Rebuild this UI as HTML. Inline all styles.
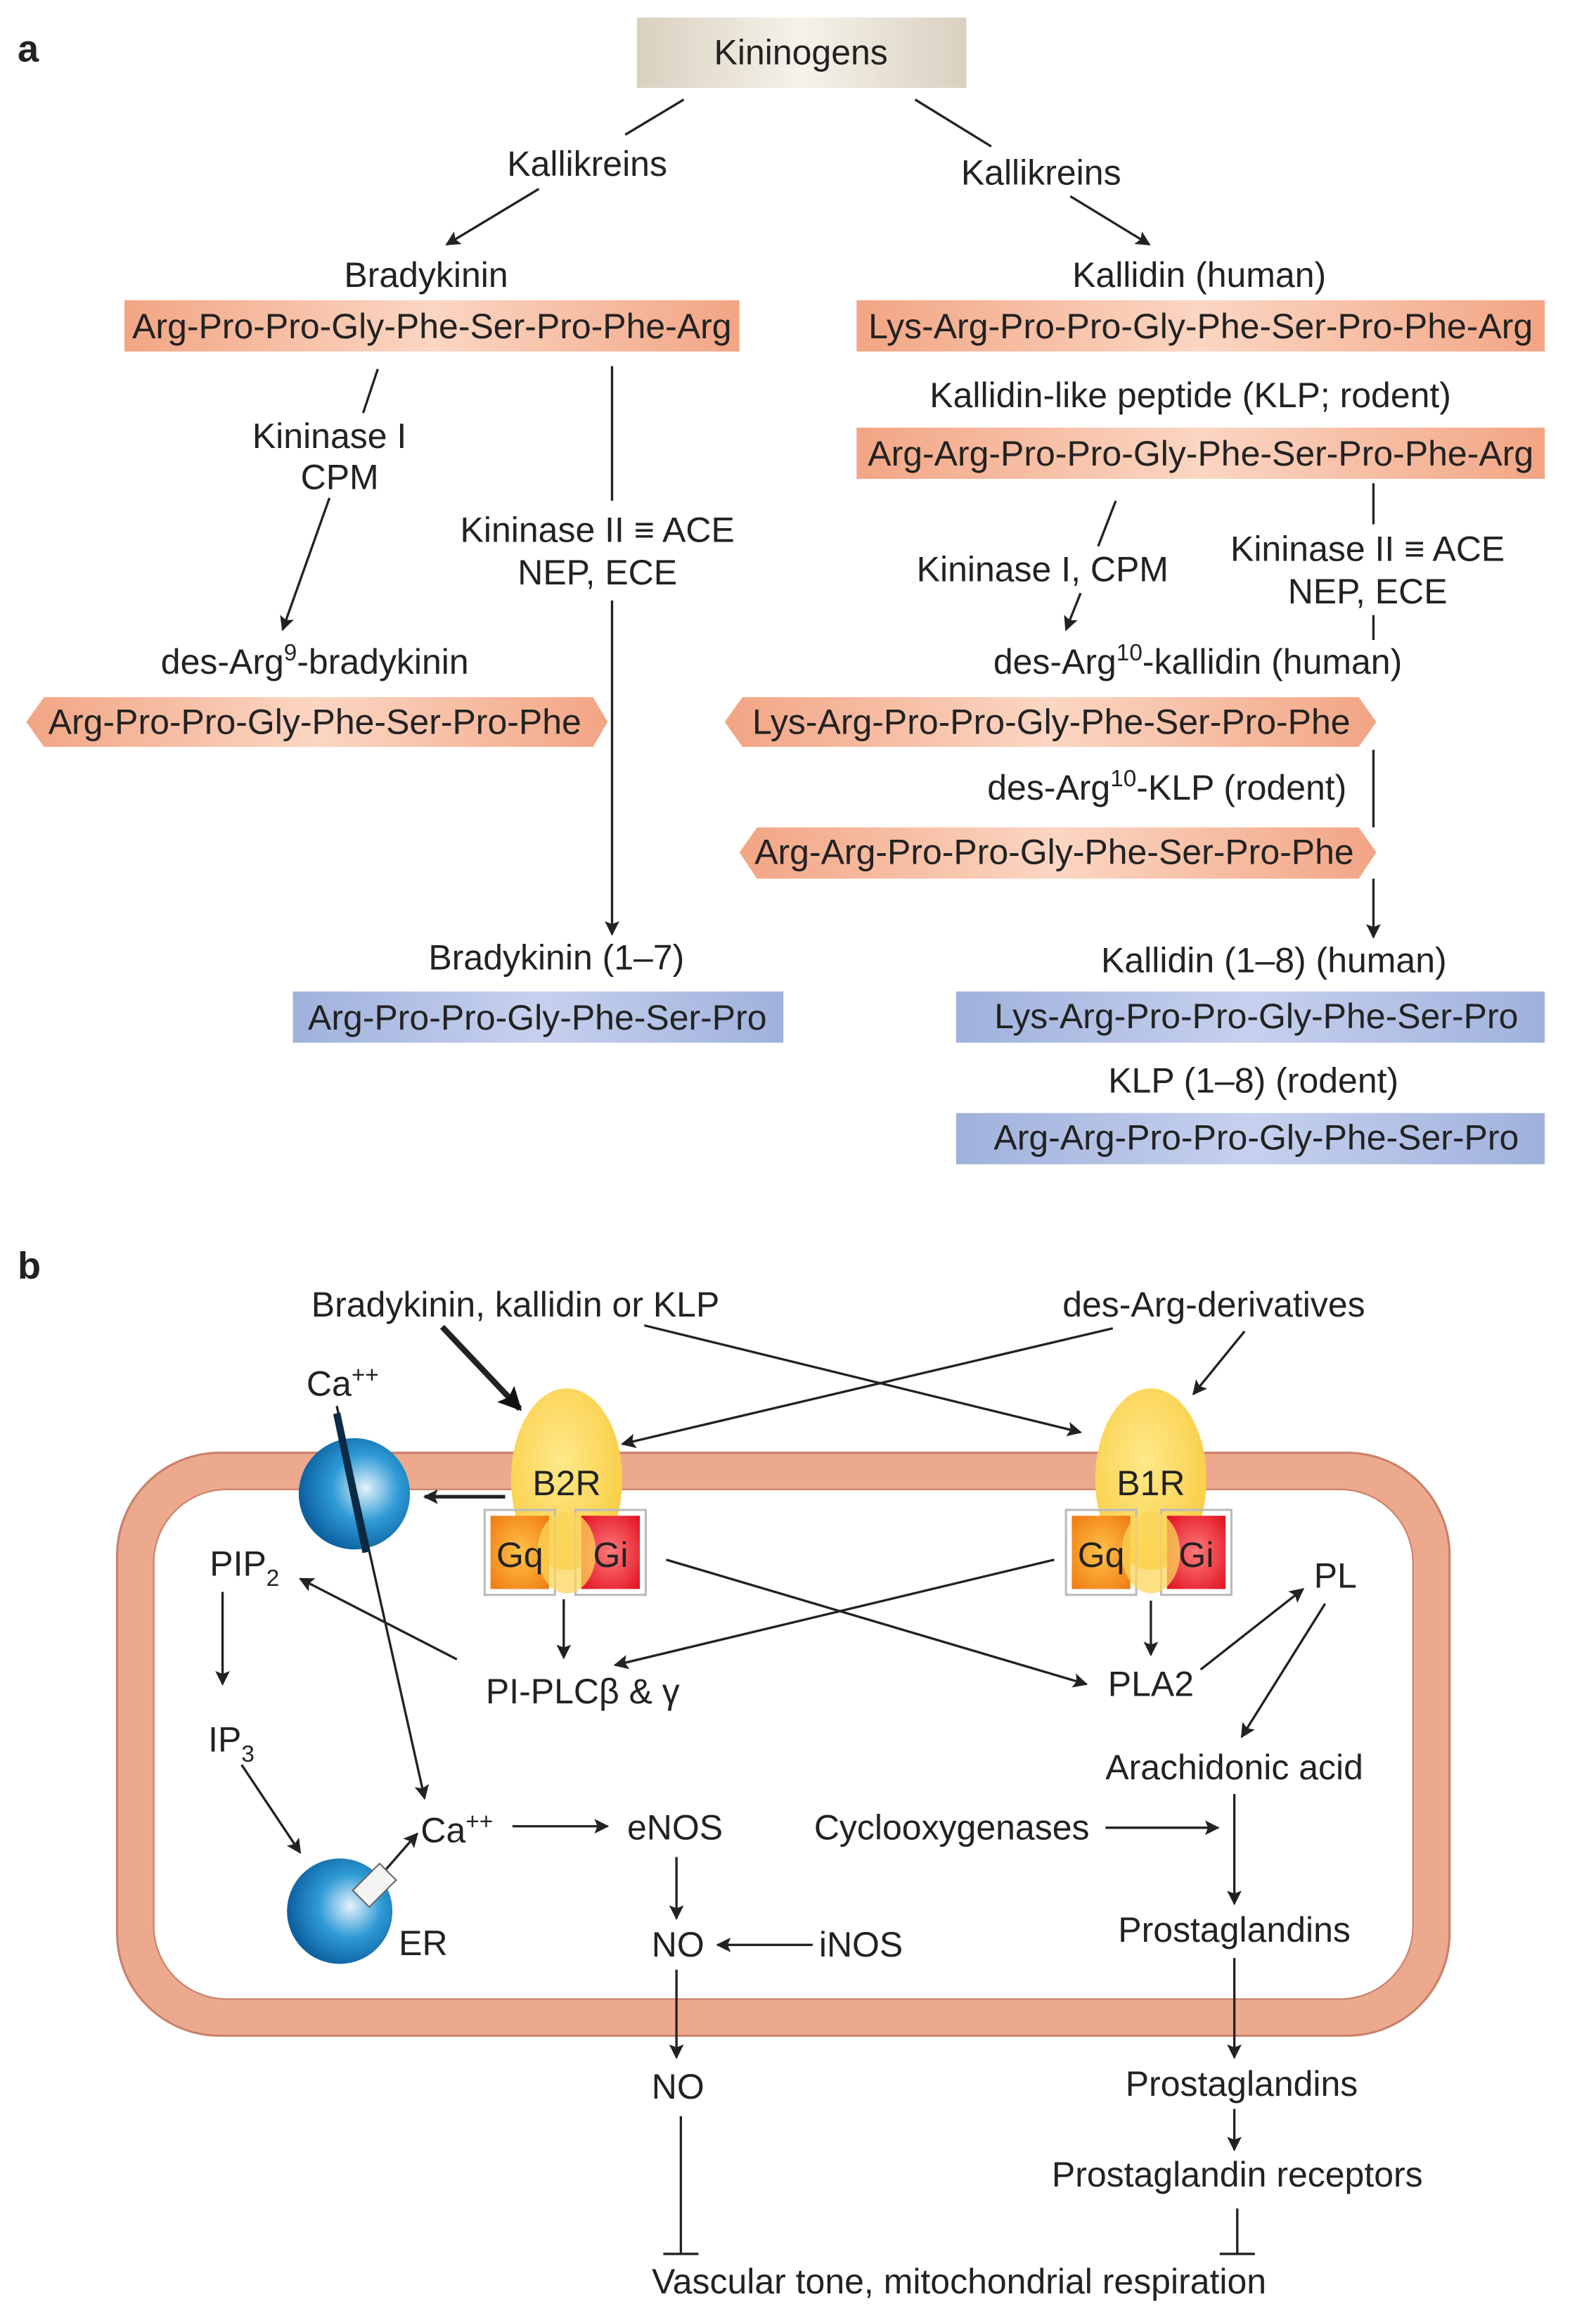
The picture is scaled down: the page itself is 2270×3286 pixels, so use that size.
<!DOCTYPE html>
<html><head><meta charset="utf-8"><style>
html,body{margin:0;padding:0;background:#fff;}
svg{display:block;}
text{font-family:"Liberation Sans",sans-serif;font-size:24px;fill:#222;}
</style></head><body>
<svg width="2270" height="3286" viewBox="0 0 1090 1578" preserveAspectRatio="none" xmlns="http://www.w3.org/2000/svg">
<defs>
<marker id="ar" markerWidth="10" markerHeight="10" refX="9" refY="5" orient="auto" markerUnits="userSpaceOnUse"><path d="M0,0 L10,5 L0,10 L2,5 z" fill="#222"/></marker>
<marker id="arb" markerWidth="16" markerHeight="16" refX="14" refY="8" orient="auto" markerUnits="userSpaceOnUse"><path d="M0,0 L16,8 L0,16 L3,8 z" fill="#111"/></marker>
<linearGradient id="beige" x1="0" x2="1"><stop offset="0" stop-color="#d9d0c0"/><stop offset="0.5" stop-color="#f6f2ea"/><stop offset="1" stop-color="#d9d0c0"/></linearGradient>
<linearGradient id="org" x1="0" x2="1"><stop offset="0" stop-color="#f2a584"/><stop offset="0.5" stop-color="#fbd6c3"/><stop offset="1" stop-color="#f2a584"/></linearGradient>
<linearGradient id="blu" x1="0" x2="1"><stop offset="0" stop-color="#9fb1dc"/><stop offset="0.5" stop-color="#c7d1ee"/><stop offset="1" stop-color="#9fb1dc"/></linearGradient>
<radialGradient id="yel" cx="0.45" cy="0.4" r="0.7"><stop offset="0" stop-color="#ffe98a"/><stop offset="1" stop-color="#f8c93a"/></radialGradient>
<radialGradient id="sph" cx="0.6" cy="0.45" r="0.6"><stop offset="0" stop-color="#e6f2fb"/><stop offset="0.5" stop-color="#2f9bd6"/><stop offset="1" stop-color="#0b5f9e"/></radialGradient>
<radialGradient id="gq" cx="0.5" cy="0.5" r="0.7"><stop offset="0" stop-color="#ffc24a"/><stop offset="1" stop-color="#f07a10"/></radialGradient>
<radialGradient id="gi" cx="0.5" cy="0.5" r="0.7"><stop offset="0" stop-color="#ff7a7a"/><stop offset="1" stop-color="#e01020"/></radialGradient>
</defs>
<g stroke="#222" stroke-width="1.6" fill="none">
<line x1="467" y1="68" x2="427" y2="92"/>
<line x1="368" y1="129" x2="305" y2="167" marker-end="url(#ar)"/>
<line x1="625" y1="68" x2="677" y2="100"/>
<line x1="731" y1="134" x2="785" y2="167" marker-end="url(#ar)"/>
<line x1="258" y1="252" x2="248" y2="282"/>
<line x1="225" y1="340" x2="193" y2="430" marker-end="url(#ar)"/>
<line x1="418" y1="250" x2="418" y2="342"/>
<line x1="418" y1="410" x2="418" y2="638" marker-end="url(#ar)"/>
<line x1="762" y1="342" x2="750" y2="373"/>
<line x1="738" y1="405" x2="728" y2="430" marker-end="url(#ar)"/>
<line x1="938" y1="330" x2="938" y2="358"/>
<line x1="938" y1="420" x2="938" y2="437"/>
<line x1="938" y1="512" x2="938" y2="565"/>
<line x1="938" y1="600" x2="938" y2="640" marker-end="url(#ar)"/>
</g>
<text x="12" y="42" style="font-weight:bold;font-size:26px">a</text>
<rect x="435" y="12" width="225" height="48" fill="url(#beige)"/>
<text x="547" y="44" text-anchor="middle">Kininogens</text>
<text x="401" y="120" text-anchor="middle">Kallikreins</text>
<text x="711" y="126" text-anchor="middle">Kallikreins</text>
<text x="291" y="196" text-anchor="middle">Bradykinin</text>
<rect x="85" y="205" width="420" height="35" fill="url(#org)"/>
<text x="295" y="231" text-anchor="middle">Arg-Pro-Pro-Gly-Phe-Ser-Pro-Phe-Arg</text>
<text x="819" y="196" text-anchor="middle">Kallidin (human)</text>
<rect x="585" y="205" width="470" height="35" fill="url(#org)"/>
<text x="820" y="231" text-anchor="middle">Lys-Arg-Pro-Pro-Gly-Phe-Ser-Pro-Phe-Arg</text>
<text x="813" y="278" text-anchor="middle">Kallidin-like peptide (KLP; rodent)</text>
<rect x="585" y="292" width="470" height="35" fill="url(#org)"/>
<text x="820" y="318" text-anchor="middle">Arg-Arg-Pro-Pro-Gly-Phe-Ser-Pro-Phe-Arg</text>
<text x="225" y="306" text-anchor="middle">Kininase I</text>
<text x="232" y="334" text-anchor="middle">CPM</text>
<text x="408" y="370" text-anchor="middle">Kininase II ≡ ACE</text>
<text x="408" y="399" text-anchor="middle">NEP, ECE</text>
<text x="712" y="397" text-anchor="middle">Kininase I, CPM</text>
<text x="934" y="383" text-anchor="middle">Kininase II ≡ ACE</text>
<text x="934" y="412" text-anchor="middle">NEP, ECE</text>
<text x="215" y="460" text-anchor="middle">des-Arg<tspan dy="-9" style="font-size:16px">9</tspan><tspan dy="9">-bradykinin</tspan></text>
<path d="M30,476 H405 L415,493 L405,510 H30 L18,493 Z" fill="url(#org)"/>
<text x="215" y="501" text-anchor="middle">Arg-Pro-Pro-Gly-Phe-Ser-Pro-Phe</text>
<text x="818" y="460" text-anchor="middle">des-Arg<tspan dy="-9" style="font-size:16px">10</tspan><tspan dy="9">-kallidin (human)</tspan></text>
<path d="M507,476 H928 L940,493 L928,510 H507 L495,493 Z" fill="url(#org)"/>
<text x="718" y="501" text-anchor="middle">Lys-Arg-Pro-Pro-Gly-Phe-Ser-Pro-Phe</text>
<text x="797" y="546" text-anchor="middle">des-Arg<tspan dy="-9" style="font-size:16px">10</tspan><tspan dy="9">-KLP (rodent)</tspan></text>
<path d="M517,565 H928 L940,582 L928,600 H517 L505,582 Z" fill="url(#org)"/>
<text x="720" y="590" text-anchor="middle">Arg-Arg-Pro-Pro-Gly-Phe-Ser-Pro-Phe</text>
<text x="380" y="662" text-anchor="middle">Bradykinin (1–7)</text>
<rect x="200" y="677" width="335" height="35" fill="url(#blu)"/>
<text x="367" y="703" text-anchor="middle">Arg-Pro-Pro-Gly-Phe-Ser-Pro</text>
<text x="870" y="664" text-anchor="middle">Kallidin (1–8) (human)</text>
<rect x="653" y="677" width="402" height="35" fill="url(#blu)"/>
<text x="858" y="702" text-anchor="middle">Lys-Arg-Pro-Pro-Gly-Phe-Ser-Pro</text>
<text x="856" y="746" text-anchor="middle">KLP (1–8) (rodent)</text>
<rect x="653" y="760" width="402" height="35" fill="url(#blu)"/>
<text x="858" y="785" text-anchor="middle">Arg-Arg-Pro-Pro-Gly-Phe-Ser-Pro</text>

<text x="12" y="873" style="font-weight:bold;font-size:26px">b</text>
<rect x="80" y="992" width="910" height="398" rx="70" fill="#eca98e" stroke="#c98068" stroke-width="1.5"/>
<rect x="105" y="1017" width="860" height="348" rx="50" fill="#fff" stroke="#c98068" stroke-width="1"/>
<text x="352" y="899" text-anchor="middle">Bradykinin, kallidin or KLP</text>
<text x="829" y="899" text-anchor="middle">des-Arg-derivatives</text>
<circle cx="242" cy="1020" r="38" fill="url(#sph)"/>
<g stroke="#222" stroke-width="1.6" fill="none">
<line x1="302" y1="906" x2="355" y2="962" stroke-width="4" marker-end="url(#arb)"/>
<line x1="440" y1="905" x2="738" y2="978" marker-end="url(#ar)"/>
<line x1="760" y1="907" x2="425" y2="986" marker-end="url(#ar)"/>
<line x1="850" y1="909" x2="815" y2="952" marker-end="url(#ar)"/>
<line x1="230" y1="960" x2="290" y2="1228" marker-end="url(#ar)"/>
</g>
<line x1="230" y1="965" x2="250" y2="1060" stroke="#0b2a45" stroke-width="5"/>
<ellipse cx="387" cy="1010" rx="38" ry="62" fill="url(#yel)"/>
<ellipse cx="786" cy="1010" rx="38" ry="62" fill="url(#yel)"/>
<g stroke="#bbb" stroke-width="1.5" fill="none">
<rect x="331" y="1031" width="48" height="58"/><rect x="393" y="1031" width="48" height="58"/>
<rect x="728" y="1031" width="48" height="58"/><rect x="793" y="1031" width="48" height="58"/>
</g>
<rect x="335" y="1035" width="40" height="50" fill="url(#gq)"/>
<rect x="397" y="1035" width="40" height="50" fill="url(#gi)"/>
<rect x="732" y="1035" width="40" height="50" fill="url(#gq)"/>
<rect x="797" y="1035" width="40" height="50" fill="url(#gi)"/>
<ellipse cx="387" cy="1060" rx="20" ry="28" fill="#fcd55a" opacity="0.75"/>
<ellipse cx="786" cy="1060" rx="20" ry="28" fill="#fcd55a" opacity="0.75"/>
<text x="387" y="1021" text-anchor="middle">B2R</text>
<text x="786" y="1021" text-anchor="middle">B1R</text>
<text x="355" y="1070" text-anchor="middle">Gq</text>
<text x="417" y="1070" text-anchor="middle">Gi</text>
<text x="752" y="1070" text-anchor="middle">Gq</text>
<text x="817" y="1070" text-anchor="middle">Gi</text>
<text x="234" y="953" text-anchor="middle">Ca<tspan dy="-9" style="font-size:16px">++</tspan></text>
<circle cx="232" cy="1305" r="36" fill="url(#sph)"/>
<g stroke="#222" stroke-width="1.6" fill="none">
<line x1="345" y1="1022" x2="290" y2="1022" stroke-width="2.5" marker-end="url(#ar)"/>
<line x1="152" y1="1087" x2="152" y2="1150" marker-end="url(#ar)"/>
<line x1="165" y1="1205" x2="205" y2="1265" marker-end="url(#ar)"/>
<line x1="250" y1="1292" x2="285" y2="1252" marker-end="url(#ar)"/>
<line x1="350" y1="1247" x2="415" y2="1247" marker-end="url(#ar)"/>
<line x1="462" y1="1268" x2="462" y2="1310" marker-end="url(#ar)"/>
<line x1="555" y1="1328" x2="490" y2="1328" marker-end="url(#ar)"/>
<line x1="385" y1="1092" x2="385" y2="1132" marker-end="url(#ar)"/>
<line x1="312" y1="1133" x2="205" y2="1078" marker-end="url(#ar)"/>
<line x1="720" y1="1065" x2="420" y2="1137" marker-end="url(#ar)"/>
<line x1="455" y1="1065" x2="742" y2="1150" marker-end="url(#ar)"/>
<line x1="786" y1="1093" x2="786" y2="1130" marker-end="url(#ar)"/>
<line x1="820" y1="1140" x2="890" y2="1085" marker-end="url(#ar)"/>
<line x1="905" y1="1095" x2="848" y2="1186" marker-end="url(#ar)"/>
<line x1="755" y1="1248" x2="832" y2="1248" marker-end="url(#ar)"/>
<line x1="843" y1="1225" x2="843" y2="1300" marker-end="url(#ar)"/>
<line x1="843" y1="1337" x2="843" y2="1405" marker-end="url(#ar)"/>
<line x1="843" y1="1440" x2="843" y2="1468" marker-end="url(#ar)"/>
<line x1="845" y1="1508" x2="845" y2="1539"/><line x1="833" y1="1539" x2="857" y2="1539"/>
<line x1="462" y1="1345" x2="462" y2="1405" marker-end="url(#ar)"/>
<line x1="465" y1="1445" x2="465" y2="1539"/><line x1="453" y1="1539" x2="477" y2="1539"/>
</g>
<g transform="rotate(-45 255 1288)"><rect x="243" y="1280" width="26" height="16" fill="#f4f4f4" stroke="#666" stroke-width="1"/></g>
<text x="167" y="1076" text-anchor="middle">PIP<tspan dy="7" style="font-size:16px">2</tspan></text>
<text x="158" y="1196" text-anchor="middle">IP<tspan dy="7" style="font-size:16px">3</tspan></text>
<text x="289" y="1335" text-anchor="middle">ER</text>
<text x="312" y="1258" text-anchor="middle">Ca<tspan dy="-9" style="font-size:16px">++</tspan></text>
<text x="461" y="1256" text-anchor="middle">eNOS</text>
<text x="463" y="1336" text-anchor="middle">NO</text>
<text x="588" y="1336" text-anchor="middle">iNOS</text>
<text x="398" y="1163" text-anchor="middle">PI-PLCβ &amp; γ</text>
<text x="786" y="1158" text-anchor="middle">PLA2</text>
<text x="912" y="1084" text-anchor="middle">PL</text>
<text x="843" y="1215" text-anchor="middle">Arachidonic acid</text>
<text x="650" y="1256" text-anchor="middle">Cyclooxygenases</text>
<text x="843" y="1326" text-anchor="middle">Prostaglandins</text>
<text x="463" y="1433" text-anchor="middle">NO</text>
<text x="848" y="1431" text-anchor="middle">Prostaglandins</text>
<text x="845" y="1493" text-anchor="middle">Prostaglandin receptors</text>
<text x="655" y="1566" text-anchor="middle">Vascular tone, mitochondrial respiration</text>
</svg>
</body></html>
